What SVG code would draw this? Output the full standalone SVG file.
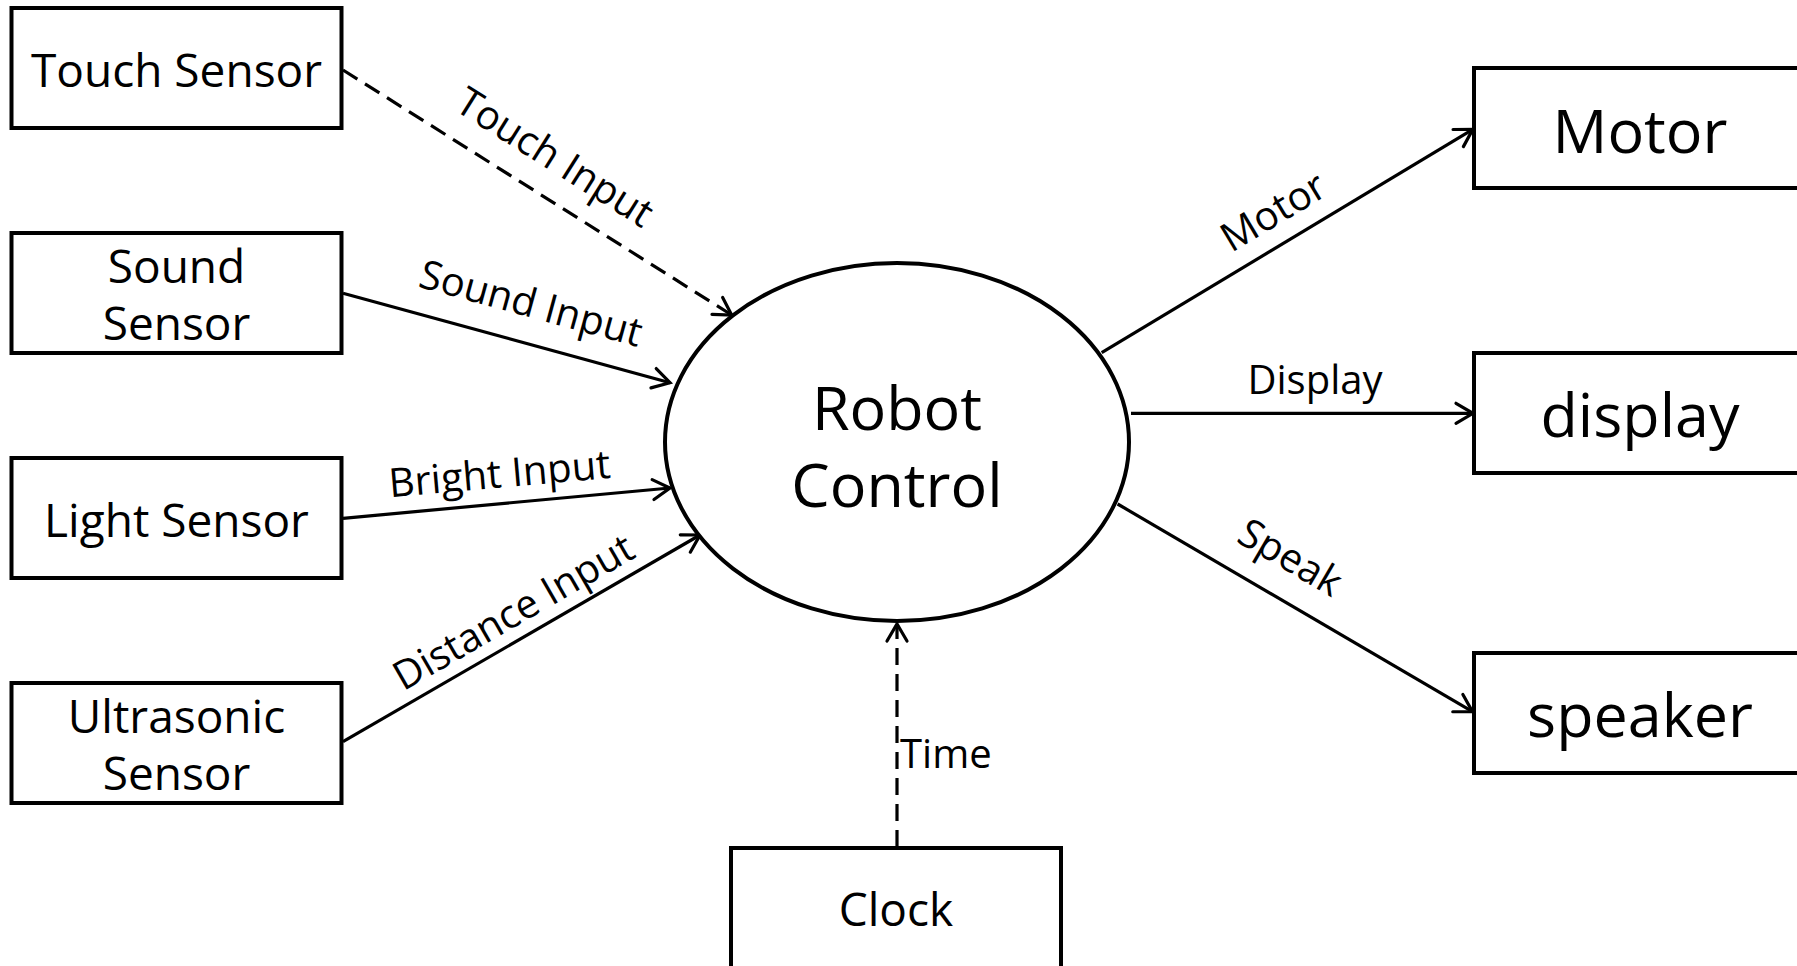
<svg xmlns="http://www.w3.org/2000/svg" width="1797" height="966" viewBox="0 0 1797 966">
<style>
  .box { fill: #fff; stroke: #000; stroke-width: 4; }
  .ell { fill: #fff; stroke: #000; stroke-width: 4; }
  .lbl { font-family: "Open Sans", "Noto Sans", "DejaVu Sans", sans-serif; fill: #000; text-anchor: middle; }
  .l46 { font-size: 46px; }
  .l60 { font-size: 61px; }
  .edge { fill: none; stroke: #000; stroke-width: 3.2; }
  .dash { stroke-dasharray: 17 9; }
  .elbl { font-family: "Open Sans", "Noto Sans", "DejaVu Sans", sans-serif; font-size: 40px; fill: #000; text-anchor: middle; }
</style>
<defs>
  <marker id="arr" markerUnits="userSpaceOnUse" markerWidth="40" markerHeight="40" viewBox="-20 -20 40 40" refX="0" refY="0" orient="auto" overflow="visible">
    <path d="M-17,-10 L0,0 L-17,10" fill="none" stroke="#000" stroke-width="3.2" stroke-dasharray="none" stroke-linecap="round" stroke-linejoin="miter"/>
  </marker>
</defs>
<rect width="1797" height="966" fill="#fff"/>

<g id="connectors">
  <line class="edge dash" x1="343" y1="70" x2="731.7" y2="315" marker-end="url(#arr)"/>
  <line class="edge" x1="343" y1="293.3" x2="670" y2="382.7" marker-end="url(#arr)"/>
  <line class="edge" x1="343" y1="518.3" x2="670" y2="488" marker-end="url(#arr)"/>
  <line class="edge" x1="343" y1="741.7" x2="700" y2="535" marker-end="url(#arr)"/>
  <line class="edge" x1="1101.7" y1="352.7" x2="1472.8" y2="129.3" marker-end="url(#arr)"/>
  <line class="edge" x1="1131" y1="413.3" x2="1473" y2="413.3" marker-end="url(#arr)"/>
  <line class="edge" x1="1117.6" y1="504" x2="1472.5" y2="711.7" marker-end="url(#arr)"/>
  <line class="edge dash" x1="897" y1="847" x2="897" y2="624" marker-end="url(#arr)"/>

  <text class="elbl" transform="translate(547.7,168.9) rotate(32.2)">Touch Input</text>
  <text class="elbl" transform="translate(527.4,316.7) rotate(15.3)">Sound Input</text>
  <text class="elbl" transform="translate(500.7,487.5) rotate(-5)">Bright Input</text>
  <text class="elbl" transform="translate(520.3,624) rotate(-30)">Distance Input</text>
  <text class="elbl" transform="translate(1280.4,223.4) rotate(-31)">Motor</text>
  <text class="elbl" x="1315" y="394.3">Display</text>
  <text class="elbl" transform="translate(1283.5,569.2) rotate(30.3)">Speak</text>
  <text class="elbl" x="900" y="768" style="text-anchor:start">Time</text>
</g>

<g id="touch-sensor">
  <rect class="box" x="11.5" y="8" width="330" height="120"/>
  <text class="lbl l46" x="176.5" y="87">Touch Sensor</text>
</g>
<g id="sound-sensor">
  <rect class="box" x="11.5" y="233" width="330" height="120"/>
  <text class="lbl l46" x="176.5" y="283">Sound</text>
  <text class="lbl l46" x="176.5" y="340">Sensor</text>
</g>
<g id="light-sensor">
  <rect class="box" x="11.5" y="458" width="330" height="120"/>
  <text class="lbl l46" x="176.5" y="536.7">Light Sensor</text>
</g>
<g id="ultrasonic-sensor">
  <rect class="box" x="11.5" y="683" width="330" height="120"/>
  <text class="lbl l46" x="176.5" y="733">Ultrasonic</text>
  <text class="lbl l46" x="176.5" y="790">Sensor</text>
</g>
<g id="robot-control">
  <ellipse class="ell" cx="897" cy="442" rx="232" ry="179"/>
  <text class="lbl l60" x="897" y="430">Robot</text>
  <text class="lbl l60" x="897" y="506.7">Control</text>
</g>
<g id="motor">
  <rect class="box" x="1474" y="68" width="340" height="120"/>
  <text class="lbl l60" x="1640" y="153">Motor</text>
</g>
<g id="display">
  <rect class="box" x="1474" y="353" width="340" height="120"/>
  <text class="lbl l60" x="1640" y="436.7">display</text>
</g>
<g id="speaker">
  <rect class="box" x="1474" y="653" width="340" height="120"/>
  <text class="lbl l60" x="1640" y="737">speaker</text>
</g>
<g id="clock">
  <rect class="box" x="731" y="848" width="330" height="140"/>
  <text class="lbl l46" x="896" y="926">Clock</text>
</g>
</svg>
